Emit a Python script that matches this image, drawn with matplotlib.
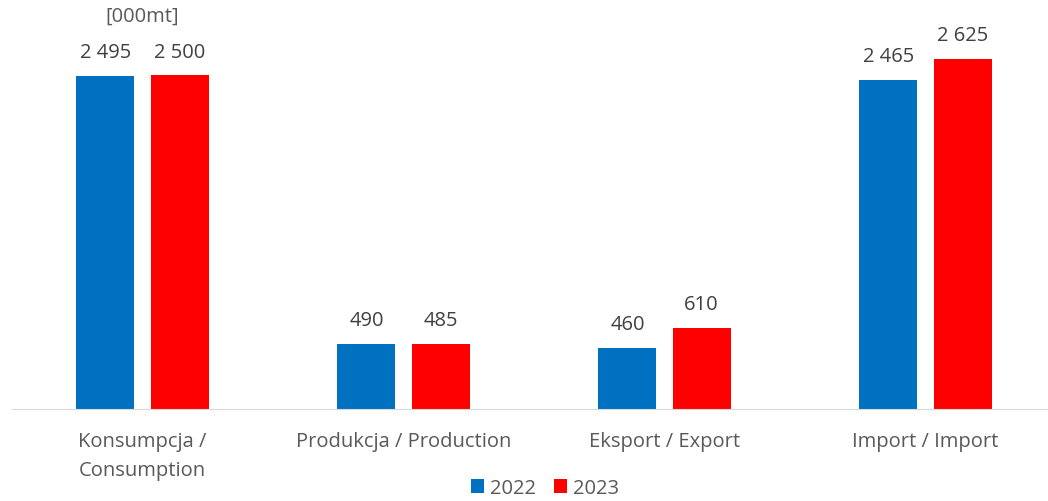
import matplotlib.pyplot as plt
import numpy as np

categories = ['Konsumpcja /\nConsumption', 'Produkcja / Production', 'Eksport / Export', 'Import / Import']
values_2022 = [2495, 490, 460, 2465]
values_2023 = [2500, 485, 610, 2625]
labels_2022 = ['2 495', '490', '460', '2 465']
labels_2023 = ['2 500', '485', '610', '2 625']

plt.rcParams['font.family'] = ['Open Sans', 'DejaVu Sans']

fig = plt.figure(figsize=(10.48, 5.02), dpi=100)
ax = fig.add_axes([12 / 1048, 92 / 502, 1044 / 1048, 410 / 502])

x = np.arange(len(categories))
width = 0.222
offset = 0.142
blue = '#0070C0'
red = '#FF0000'

bars1 = ax.bar(x - offset, values_2022, width, color=blue, label='2022')
bars2 = ax.bar(x + offset, values_2023, width, color=red, label='2023')

for bars, labs in [(bars1, labels_2022), (bars2, labels_2023)]:
    for bar, lab in zip(bars, labs):
        ax.annotate(lab, (bar.get_x() + bar.get_width() / 2, bar.get_height()),
                    xytext=(0, 10), textcoords='offset points', ha='center', va='bottom',
                    fontsize=14.5, color='#404040')

ax.text(0, 3073 - 17 / 0.1334, '[000mt]', ha='center', va='center', fontsize=14.5, color='#595959')

ax.set_xlim(-0.5, 3.5)
ax.set_ylim(0, 3073)
ax.set_xticks(x)
ax.set_xticklabels(categories, fontsize=14.5, color='#595959', va='top', linespacing=1.6)
ax.tick_params(axis='x', length=0, pad=16)
ax.set_yticks([])
for s in ['top', 'right', 'left']:
    ax.spines[s].set_visible(False)
ax.spines['bottom'].set_color('#D9D9D9')

fig.legend(handles=[bars1, bars2], labels=['2022', '2023'], loc='center',
           bbox_to_anchor=(545 / 1048, 1 - 489 / 502), ncol=2, frameon=False,
           fontsize=14.5, handlelength=0.65, handleheight=0.65, handletextpad=0.3,
           columnspacing=0.9, labelcolor='#595959')

fig.savefig('out.png', dpi=100)
